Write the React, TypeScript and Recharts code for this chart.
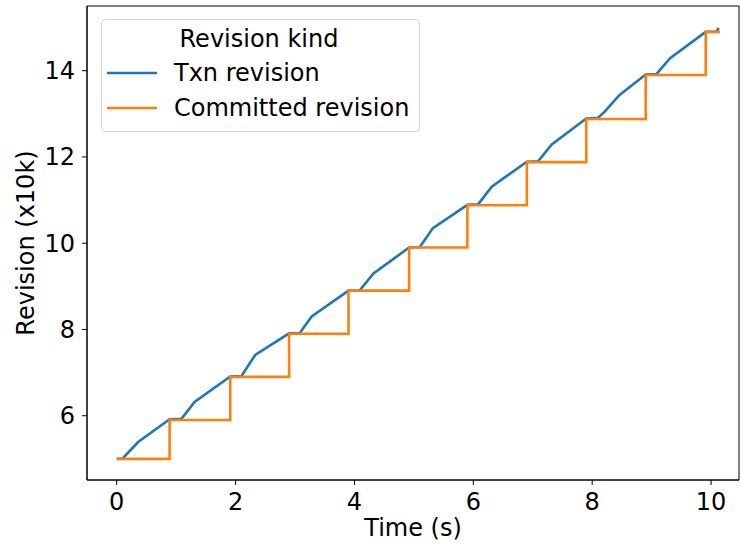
import React from 'react';
import { LineChart, Line, XAxis, YAxis, Legend, ReferenceArea, Label } from 'recharts';

// time (s) / revision (x10k)
const txnTime = [0, 0.1, 0.36, 0.89, 1.09, 1.31, 1.91, 2.1, 2.33, 2.9, 3.08, 3.28, 3.9, 4.09, 4.32, 4.92, 5.1, 5.32, 5.9, 6.08, 6.31, 6.9, 7.09, 7.32, 7.9, 8.1, 8.21, 8.46, 8.9, 9.08, 9.31, 9.91, 10.09, 10.13];
const txnRevision = [5.0, 5.01, 5.39, 5.92, 5.93, 6.32, 6.91, 6.92, 7.41, 7.91, 7.92, 8.3, 8.9, 8.91, 9.3, 9.9, 9.91, 10.35, 10.89, 10.9, 11.31, 11.89, 11.9, 12.29, 12.89, 12.91, 13.05, 13.44, 13.91, 13.92, 14.29, 14.9, 14.91, 14.99];
const commitTime = [0, 0.89, 1.91, 2.9, 3.9, 4.92, 5.9, 6.9, 7.9, 8.9, 9.91, 10.15];
const commitRevision = [5.0, 5.9, 6.9, 7.9, 8.9, 9.9, 10.88, 11.88, 12.88, 13.9, 14.9, 14.9];

const seriesNames = ['Txn revision', 'Committed revision'];
const xTicks = [0, 2, 4, 6, 8, 10];
const yTicks = [6, 8, 10, 12, 14];

const X_DOMAIN: [number, number] = [-0.5, 10.47];
const Y_DOMAIN: [number, number] = [4.51, 15.5];

const FONT = '"DejaVu Sans", sans-serif';
const FS = 24;

const txnData = txnTime.map((t, i) => ({ t, rev: txnRevision[i] }));
const commitData = commitTime.map((t, i) => ({ t, rev: commitRevision[i] }));

const LegendBox = ({ payload }: any) => {
  const items = seriesNames
    .map((n) => (payload || []).find((p: any) => p.value === n))
    .filter(Boolean);
  return (
    <svg width={320} height={114} style={{ display: 'block' }}>
      <rect x={0.5} y={0.5} width={318} height={112} rx={4} fill="rgba(255,255,255,0.8)" stroke="#d4d4d4" />
      <text x={158} y={28} textAnchor="middle" fontFamily={FONT} fontSize={FS} fill="#000">
        Revision kind
      </text>
      {items.map((p: any, i: number) => (
        <g key={p.value}>
          <line x1={6} x2={56} y1={54 + 35 * i} y2={54 + 35 * i} stroke={p.color} strokeWidth={2.5} />
          <text x={73} y={62 + 35 * i} fontFamily={FONT} fontSize={FS} fill="#000">
            {p.value}
          </text>
        </g>
      ))}
    </svg>
  );
};

export default function App() {
  const tickStyle = { fontFamily: FONT, fontSize: FS, fill: '#000' };
  return (
    <div style={{ position: 'absolute', left: 0, top: 0, background: '#fff' }}>
      <LineChart width={741} height={546} margin={{ top: 6, right: 2, bottom: 0, left: 0 }}>
        <XAxis
          dataKey="t"
          type="number"
          domain={X_DOMAIN}
          ticks={xTicks}
          allowDataOverflow
          height={66}
          tick={tickStyle}
          tickSize={5}
          tickMargin={8}
          stroke="#000"
        >
          <Label value="Time (s)" position="insideBottom" offset={10} style={{ fontFamily: FONT, fontSize: FS, fill: '#000' }} />
        </XAxis>
        <YAxis
          type="number"
          domain={Y_DOMAIN}
          ticks={yTicks}
          allowDataOverflow
          width={87}
          tick={tickStyle}
          tickSize={5}
          tickMargin={7}
          stroke="#000"
        >
          <Label
            value="Revision (x10k)"
            angle={-90}
            position="insideLeft"
            offset={25}
            style={{ fontFamily: FONT, fontSize: FS, fill: '#000', textAnchor: 'middle' }}
          />
        </YAxis>
        <ReferenceArea x1={X_DOMAIN[0]} x2={X_DOMAIN[1]} y1={Y_DOMAIN[0]} y2={Y_DOMAIN[1]} fill="none" stroke="#000" strokeWidth={1} />
        <Line
          data={txnData}
          dataKey="rev"
          name={seriesNames[0]}
          type="linear"
          stroke="#1f77b4"
          strokeWidth={2.6}
          dot={false}
          isAnimationActive={false}
        />
        <Line
          data={commitData}
          dataKey="rev"
          name={seriesNames[1]}
          type="stepAfter"
          stroke="#ff7f0e"
          strokeWidth={2.6}
          dot={false}
          isAnimationActive={false}
        />
        <Legend
          layout="vertical"
          align="center"
          verticalAlign="middle"
          content={<LegendBox />}
          wrapperStyle={{ left: 101, top: 19, width: 320, height: 114 }}
        />
      </LineChart>
    </div>
  );
}
